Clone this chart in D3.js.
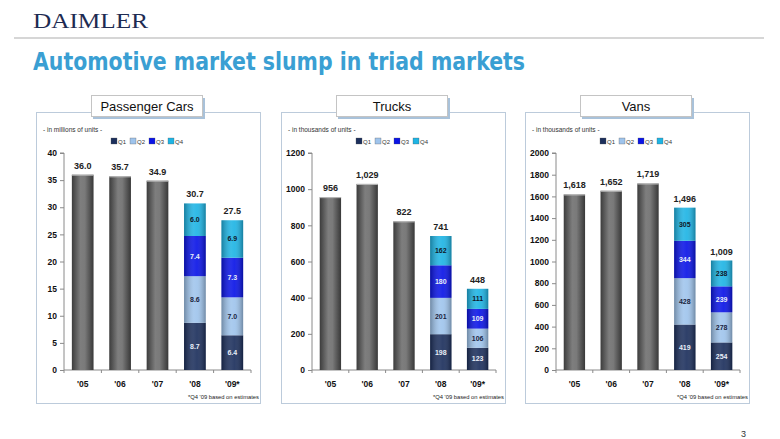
<!DOCTYPE html>
<html>
<head>
<meta charset="utf-8">
<script src="https://cdn.jsdelivr.net/npm/d3@7/dist/d3.min.js"></script>
<style>
  body { margin: 0; background: #fff; }
  svg { display: block; font-family: "Liberation Sans", Arial, sans-serif; }
</style>
</head>
<body>
<svg id="chart" width="780" height="439"></svg>
<script>
// chart data
const years = ["'05", "'06", "'07", "'08", "'09*"];
const quarters = ["Q1", "Q2", "Q3", "Q4"];

const carTotals = [36.0, 35.7, 34.9, 30.7, 27.5];
const carQ08 = [8.7, 8.6, 7.4, 6.0];
const carQ09 = [6.4, 7.0, 7.3, 6.9];
const carTicks = [0, 5, 10, 15, 20, 25, 30, 35, 40];

const truckTotals = [956, 1029, 822, 741, 448];
const truckQ08 = [198, 201, 180, 162];
const truckQ09 = [123, 106, 109, 111];
const truckTicks = [0, 200, 400, 600, 800, 1000, 1200];

const vanTotals = [1618, 1652, 1719, 1496, 1009];
const vanQ08 = [419, 428, 344, 305];
const vanQ09 = [254, 278, 239, 238];
const vanTicks = [0, 200, 400, 600, 800, 1000, 1200, 1400, 1600, 1800, 2000];

const qColors = ["#1c2f5c", "#9fc4ec", "#0a14e6", "#1eb4e4"];
const qText = ["#e8eef8", "#1a2440", "#e8eef8", "#101828"];

const svg = d3.select("#chart");
const defs = svg.append("defs");

// cylinder look for the grey bars
const gGrey = defs.append("linearGradient").attr("id", "grey");
gGrey.append("stop").attr("offset", "0%").attr("stop-color", "#3c3c3c");
gGrey.append("stop").attr("offset", "40%").attr("stop-color", "#7e7e7e");
gGrey.append("stop").attr("offset", "60%").attr("stop-color", "#7a7a7a");
gGrey.append("stop").attr("offset", "100%").attr("stop-color", "#383838");

const gShade = defs.append("linearGradient").attr("id", "shade");
gShade.append("stop").attr("offset", "0%").attr("stop-color", "#000").attr("stop-opacity", 0.3);
gShade.append("stop").attr("offset", "45%").attr("stop-color", "#fff").attr("stop-opacity", 0.12);
gShade.append("stop").attr("offset", "60%").attr("stop-color", "#fff").attr("stop-opacity", 0.08);
gShade.append("stop").attr("offset", "100%").attr("stop-color", "#000").attr("stop-opacity", 0.3);

// header
svg.append("text").attr("x", 33).attr("y", 28)
  .attr("font-family", "'Liberation Serif', 'DejaVu Serif', serif")
  .attr("font-size", 21).attr("fill", "#1e2b52")
  .attr("textLength", 115).attr("lengthAdjust", "spacingAndGlyphs")
  .text("DAIMLER");
svg.append("line").attr("x1", 14).attr("x2", 764).attr("y1", 38).attr("y2", 38)
  .attr("stroke", "#d6d6d6").attr("stroke-width", 2);
svg.append("text").attr("x", 33).attr("y", 70)
  .attr("font-family", "'Liberation Sans Narrow', 'DejaVu Sans Condensed', sans-serif")
  .attr("font-size", 25).attr("font-weight", "bold").attr("fill", "#3a9fd3")
  .attr("textLength", 492).attr("lengthAdjust", "spacingAndGlyphs")
  .text("Automotive market slump in triad markets");
svg.append("text").attr("x", 746).attr("y", 437).attr("text-anchor", "end")
  .attr("font-size", 9).attr("fill", "#333").text("3");

function drawPanel(opt) {
  const left = opt.left, top = 112, w = 224, h = 291;
  const g = svg.append("g");

  g.append("rect").attr("x", left + 0.5).attr("y", top + 0.5).attr("width", w).attr("height", h)
    .attr("fill", "#fff").attr("stroke", "#bccbdb");

  // title box
  g.append("rect").attr("x", left + 57).attr("y", top - 14).attr("width", 112).attr("height", 21)
    .attr("fill", "#a9c2da");
  g.append("rect").attr("x", left + 55.5).attr("y", top - 16.5).attr("width", 111).attr("height", 21)
    .attr("fill", "#fff").attr("stroke", "#c4c4c4");
  g.append("text").attr("x", left + 111).attr("y", top - 1.5).attr("text-anchor", "middle")
    .attr("font-size", 13).attr("fill", "#111").text(opt.title);

  g.append("text").attr("x", left + 7).attr("y", top + 20)
    .attr("font-size", 6.5).attr("fill", "#333").text(opt.unit);

  // legend
  const leg = g.append("g").attr("transform", `translate(${left + 75},${top + 31})`);
  quarters.forEach((q, i) => {
    const it = leg.append("g").attr("transform", `translate(${i * 19},0)`);
    it.append("rect").attr("x", 0).attr("y", -5).attr("width", 6).attr("height", 6)
      .attr("fill", qColors[i]).attr("stroke", "#555").attr("stroke-width", 0.3);
    it.append("text").attr("x", 7).attr("y", 1).attr("font-size", 6).attr("fill", "#333").text(q);
  });

  const x0 = left + opt.axisOff, x1 = left + 215;
  const x = d3.scaleBand().domain(years).range([x0, x1]).paddingInner(0).paddingOuter(0);
  const y = d3.scaleLinear().domain([0, opt.ticks[opt.ticks.length - 1]]).range([370, 153]);
  const bw = x.bandwidth() * 0.58;

  // y axis
  const ya = g.append("g").attr("transform", `translate(${x0},0)`)
    .call(d3.axisLeft(y).tickValues(opt.ticks).tickSize(4).tickPadding(3).tickFormat(d3.format("d")));
  ya.select(".domain").attr("stroke", "#8a8a8a").attr("d", `M-4,${y(opt.ticks[opt.ticks.length - 1])}H0V${y(0)}`);
  ya.selectAll(".tick line").attr("stroke", "#8a8a8a");
  ya.selectAll(".tick text").attr("font-size", 8.5).attr("font-weight", "bold")
    .attr("fill", "#111").attr("font-family", "'Liberation Sans', Arial, sans-serif");

  // x axis
  const xa = g.append("g").attr("transform", `translate(0,${y(0)})`);
  xa.append("line").attr("x1", x0).attr("x2", x1).attr("stroke", "#8a8a8a");
  years.forEach((yr, i) => {
    xa.append("line").attr("x1", x(yr) + x.bandwidth()).attr("x2", x(yr) + x.bandwidth())
      .attr("y1", 0).attr("y2", 3).attr("stroke", "#8a8a8a");
    if (i === 0) xa.append("line").attr("x1", x0).attr("x2", x0).attr("y1", 0).attr("y2", 3).attr("stroke", "#8a8a8a");
    xa.append("text").attr("x", x(yr) + x.bandwidth() / 2).attr("y", 17).attr("text-anchor", "middle")
      .attr("font-size", 8.5).attr("font-weight", "bold").attr("fill", "#111").text(yr);
  });

  // grey bars for full years
  const fmt = opt.fmt;
  years.slice(0, 3).forEach((yr, i) => {
    g.append("rect").attr("x", x(yr) + (x.bandwidth() - bw) / 2).attr("width", bw)
      .attr("y", y(opt.totals[i])).attr("height", y(0) - y(opt.totals[i]))
      .attr("fill", "url(#grey)");
    g.append("rect").attr("x", x(yr) + (x.bandwidth() - bw) / 2).attr("width", bw)
      .attr("y", y(opt.totals[i])).attr("height", 1).attr("fill", "#bbb");
  });

  // stacked quarterly bars
  [opt.q08, opt.q09].forEach((qs, k) => {
    const yr = years[3 + k];
    const bx = x(yr) + (x.bandwidth() - bw) / 2;
    let cum = 0;
    qs.forEach((v, i) => {
      const y1 = y(cum), y2 = y(cum + v);
      g.append("rect").attr("x", bx).attr("width", bw).attr("y", y2).attr("height", y1 - y2)
        .attr("fill", qColors[i]);
      g.append("rect").attr("x", bx).attr("width", bw).attr("y", y2).attr("height", y1 - y2)
        .attr("fill", "url(#shade)");
      g.append("text").attr("x", bx + bw / 2).attr("y", (y1 + y2) / 2 + 2.5).attr("text-anchor", "middle")
        .attr("font-size", 7).attr("font-weight", "bold").attr("fill", qText[i]).text(fmt(v));
      cum += v;
    });
  });

  // totals above bars
  years.forEach((yr, i) => {
    let topV = opt.totals[i];
    if (i === 3) topV = d3.sum(opt.q08);
    if (i === 4) topV = d3.sum(opt.q09);
    g.append("text").attr("x", x(yr) + x.bandwidth() / 2).attr("y", y(topV) - 6)
      .attr("text-anchor", "middle").attr("font-size", 9).attr("font-weight", "bold")
      .attr("fill", "#222").text(fmt(opt.totals[i]));
  });

  g.append("text").attr("x", left + w - 1).attr("y", top + 287).attr("text-anchor", "end")
    .attr("font-size", 5.8).attr("fill", "#222").text("*Q4 '09 based on estimates");
}

drawPanel({ left: 36, axisOff: 28, title: "Passenger Cars", unit: "- in millions of units -",
  totals: carTotals, q08: carQ08, q09: carQ09, ticks: carTicks, fmt: d3.format(".1f") });
drawPanel({ left: 281, axisOff: 31, title: "Trucks", unit: "- in thousands of units -",
  totals: truckTotals, q08: truckQ08, q09: truckQ09, ticks: truckTicks, fmt: d3.format(",") });
drawPanel({ left: 525, axisOff: 31, title: "Vans", unit: "- in thousands of units -",
  totals: vanTotals, q08: vanQ08, q09: vanQ09, ticks: vanTicks, fmt: d3.format(",") });
</script>
</body>
</html>
